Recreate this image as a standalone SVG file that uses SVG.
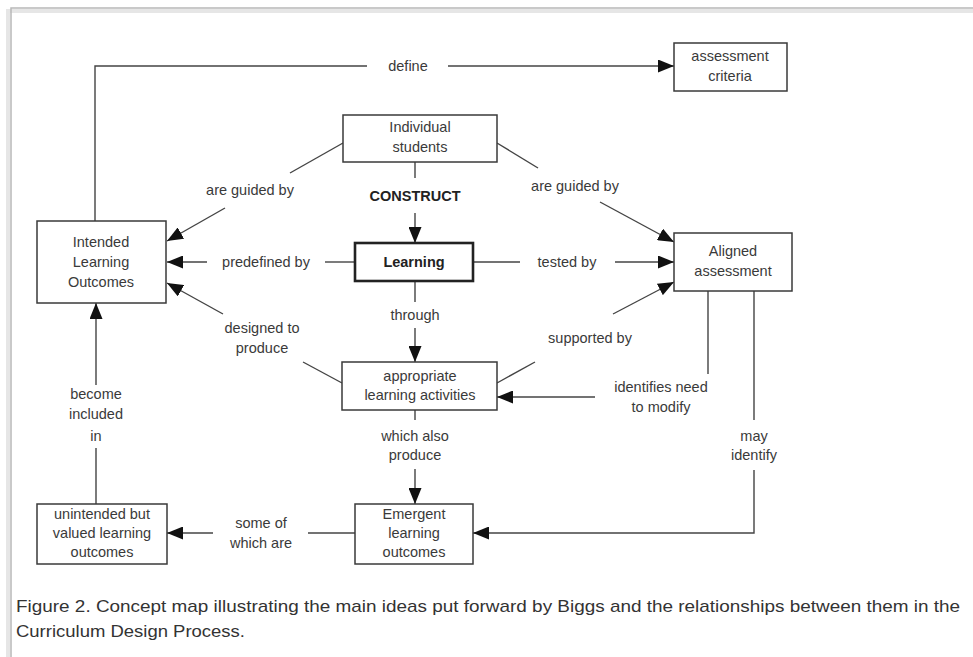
<svg xmlns="http://www.w3.org/2000/svg" width="973" height="657" viewBox="0 0 973 657">
<defs>
<marker id="arr" markerUnits="userSpaceOnUse" markerWidth="17" markerHeight="13" refX="16" refY="6.5" orient="auto">
<path d="M0,0 L16,6.5 L0,13 z" fill="#111"/>
</marker>
<style>
.box{fill:#fff;stroke:#3a3a3a;stroke-width:1.5}
.bold{fill:#fff;stroke:#222;stroke-width:2.6}
.t{font-family:"Liberation Sans",Arial,sans-serif;font-size:14.5px;fill:#3a3a3a;text-anchor:middle;dominant-baseline:central}
.tb{font-weight:bold;fill:#222}
.c{fill:none;stroke:#444;stroke-width:1.4}
.a{marker-end:url(#arr)}
.cap{font-family:"Liberation Sans",Arial,sans-serif;font-size:17px;fill:#333}
</style>
</defs>
<rect width="973" height="657" fill="#fff"/>
<path d="M8,657 V11 H973" fill="none" stroke="#e6e6e6" stroke-width="4"/>
<path d="M11,657 V8 H973" fill="none" stroke="#b8b8b8" stroke-width="1.5"/>

<g id="connectors">
<path class="c" d="M95,221 V66 H367"/>
<path class="c a" d="M448,66 H674"/>
<path class="c" d="M343,143 L290,173"/>
<path class="c a" d="M225,208 L167,241"/>
<path class="c" d="M497,143 L538,168"/>
<path class="c a" d="M600,202 L674,242"/>
<path class="c" d="M415,162 V178"/>
<path class="c a" d="M415,213 V243"/>
<path class="c" d="M355,262 H325"/>
<path class="c a" d="M207,262 H167"/>
<path class="c" d="M473,262 H520"/>
<path class="c a" d="M615,262 H674"/>
<path class="c" d="M415,281 V302"/>
<path class="c a" d="M415,328 V362"/>
<path class="c" d="M342,383 L303,362"/>
<path class="c a" d="M223,314 L167,283"/>
<path class="c" d="M497,383 L535,362"/>
<path class="c a" d="M613,314 L674,282"/>
<path class="c" d="M708,291 V374"/>
<path class="c a" d="M595,397 H497"/>
<path class="c" d="M754,291 V420"/>
<path class="c a" d="M754,470 V533 H473"/>
<path class="c" d="M415,410 V420"/>
<path class="c a" d="M415,469 V504"/>
<path class="c" d="M355,533 H308"/>
<path class="c a" d="M213,533 H167"/>
<path class="c" d="M96,504 V448"/>
<path class="c a" d="M96,385 V303"/>
</g>

<g id="labels">
<text class="t" x="408" y="66">define</text>
<text class="t" x="250" y="190">are guided by</text>
<text class="t" x="575" y="186">are guided by</text>
<text class="t tb" x="415" y="196">CONSTRUCT</text>
<text class="t" x="266" y="262">predefined by</text>
<text class="t" x="567" y="262">tested by</text>
<text class="t" x="415" y="315">through</text>
<text class="t" x="262" y="328">designed to</text>
<text class="t" x="262" y="348">produce</text>
<text class="t" x="590" y="338">supported by</text>
<text class="t" x="661" y="387">identifies need</text>
<text class="t" x="661" y="407">to modify</text>
<text class="t" x="754" y="436">may</text>
<text class="t" x="754" y="455">identify</text>
<text class="t" x="415" y="436">which also</text>
<text class="t" x="415" y="455">produce</text>
<text class="t" x="261" y="523">some of</text>
<text class="t" x="261" y="543">which are</text>
<text class="t" x="96" y="394">become</text>
<text class="t" x="96" y="414">included</text>
<text class="t" x="96" y="436">in</text>
</g>

<g id="n-criteria">
<rect class="box" x="674" y="43" width="113" height="48"/>
<text class="t" x="730" y="56">assessment</text>
<text class="t" x="730" y="76">criteria</text>
</g>
<g id="n-aligned">
<rect class="box" x="674" y="233" width="118" height="58"/>
<text class="t" x="733" y="251">Aligned</text>
<text class="t" x="733" y="271">assessment</text>
</g>
<g id="n-students">
<rect class="box" x="343" y="115" width="154" height="47"/>
<text class="t" x="420" y="127">Individual</text>
<text class="t" x="420" y="147">students</text>
</g>
<g id="n-learning">
<rect class="bold" x="355" y="243" width="118" height="38"/>
<text class="t tb" x="414" y="262">Learning</text>
</g>
<g id="n-ilo">
<rect class="box" x="37" y="221" width="129" height="82"/>
<text class="t" x="101" y="242">Intended</text>
<text class="t" x="101" y="262">Learning</text>
<text class="t" x="101" y="282">Outcomes</text>
</g>
<g id="n-activities">
<rect class="box" x="342" y="362" width="155" height="48"/>
<text class="t" x="420" y="376">appropriate</text>
<text class="t" x="420" y="395">learning activities</text>
</g>
<g id="n-emergent">
<rect class="box" x="355" y="504" width="118" height="60"/>
<text class="t" x="414" y="514">Emergent</text>
<text class="t" x="414" y="533">learning</text>
<text class="t" x="414" y="552">outcomes</text>
</g>
<g id="n-unintended">
<rect class="box" x="37" y="504" width="130" height="60"/>
<text class="t" x="102" y="514">unintended but</text>
<text class="t" x="102" y="533">valued learning</text>
<text class="t" x="102" y="552">outcomes</text>
</g>

<g id="caption">
<text class="cap" x="16" y="612" textLength="944" lengthAdjust="spacingAndGlyphs">Figure 2. Concept map illustrating the main ideas put forward by Biggs and the relationships between them in the</text>
<text class="cap" x="16" y="637" textLength="229" lengthAdjust="spacingAndGlyphs">Curriculum Design Process.</text>
</g>
</svg>
